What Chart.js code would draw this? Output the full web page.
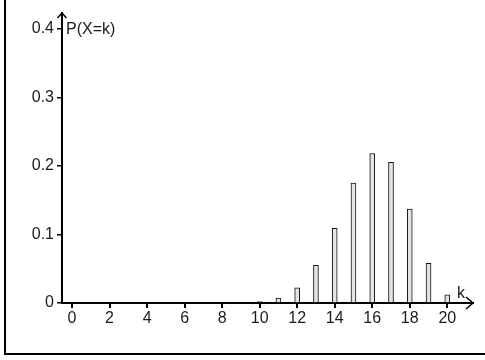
<!DOCTYPE html>
<html>
<head>
<meta charset="utf-8">
<script src="https://cdn.jsdelivr.net/npm/chart.js@4"></script>
<style>
  html, body { margin: 0; padding: 0; background: #fff; }
  #wrap { position: relative; width: 485px; height: 360px; overflow: hidden; }
  #c { position: absolute; left: 0; top: 0; }
  #frame { position: absolute; left: 4px; top: 0; width: 481px; height: 353px;
           border-left: 2px solid #000; border-bottom: 2px solid #000; box-sizing: content-box; pointer-events: none; }
</style>
</head>
<body>
<div id="wrap">
  <canvas id="c" width="485" height="360"></canvas>
  <div id="frame"></div>
</div>
<script>
const ks = [0,1,2,3,4,5,6,7,8,9,10,11,12,13,14,15,16,17,18,19,20];
const probs = [0,0,0,0,0,0,0,0,0,0,0.002,0.007,0.022,0.055,0.109,0.175,0.218,0.205,0.137,0.058,0.012];
const xTicks = [0,2,4,6,8,10,12,14,16,18,20];
const yTicks = [0,0.1,0.2,0.3,0.4];
const yTickLabels = ['0','0.1','0.2','0.3','0.4'];
const yLabel = 'P(X=k)';
const xLabel = 'k';

const FONT = '"Liberation Sans", Arial, sans-serif';

const arrowPlugin = {
  id: 'arrows',
  afterDraw(chart) {
    const ctx = chart.ctx;
    const a = chart.chartArea;
    ctx.save();
    ctx.strokeStyle = '#000';
    ctx.lineWidth = 1.5;
    ctx.beginPath();
    ctx.moveTo(a.left - 4.5, a.top + 5);
    ctx.lineTo(a.left, a.top);
    ctx.lineTo(a.left + 4.5, a.top + 5);
    ctx.stroke();
    ctx.beginPath();
    ctx.moveTo(a.right - 7, a.bottom - 6);
    ctx.lineTo(a.right, a.bottom);
    ctx.lineTo(a.right - 7, a.bottom + 6);
    ctx.stroke();
    ctx.fillStyle = '#1a1a1a';
    ctx.font = '16px ' + FONT;
    ctx.textBaseline = 'middle';
    ctx.textAlign = 'left';
    ctx.fillText(yLabel, a.left + 4, 30);
    ctx.fillText(xLabel, a.right - 16, a.bottom - 9);
    ctx.restore();
  }
};

new Chart(document.getElementById('c'), {
  type: 'bar',
  data: {
    datasets: [{
      data: ks.map((k, i) => ({ x: k, y: probs[i] })),
      backgroundColor: '#e4e4e4',
      borderColor: '#111',
      borderWidth: 1,
      barThickness: 5
    }]
  },
  options: {
    responsive: false,
    animation: false,
    devicePixelRatio: 1,
    layout: { padding: { left: 0, top: 13, right: 12, bottom: 0 } },
    plugins: { legend: { display: false }, tooltip: { enabled: false } },
    scales: {
      x: {
        type: 'linear',
        offset: false,
        min: -0.534,
        max: 21.37,
        afterFit(s) { s.height = 57; },
        afterBuildTicks(s) { s.ticks = xTicks.map(v => ({ value: v })); },
        grid: { display: true, offset: false, drawOnChartArea: false, drawTicks: true, tickLength: 5, color: '#000', lineWidth: 2 },
        border: { display: true, color: '#000', width: 2 },
        ticks: { color: '#1a1a1a', font: { family: FONT, size: 16 }, padding: 1, maxRotation: 0, autoSkip: false }
      },
      y: {
        min: 0,
        max: 0.4229,
        afterFit(s) { s.width = 62; },
        afterBuildTicks(s) { s.ticks = yTicks.map(v => ({ value: v })); },
        grid: { display: true, drawOnChartArea: false, drawTicks: true, tickLength: 5, color: '#000', lineWidth: 1.5 },
        border: { display: true, color: '#000', width: 2 },
        ticks: {
          color: '#1a1a1a', font: { family: FONT, size: 16 }, padding: 3, autoSkip: false,
          callback: (v) => { const i = yTicks.indexOf(v); return i >= 0 ? yTickLabels[i] : ''; }
        }
      }
    }
  },
  plugins: [arrowPlugin]
});
</script>
</body>
</html>
